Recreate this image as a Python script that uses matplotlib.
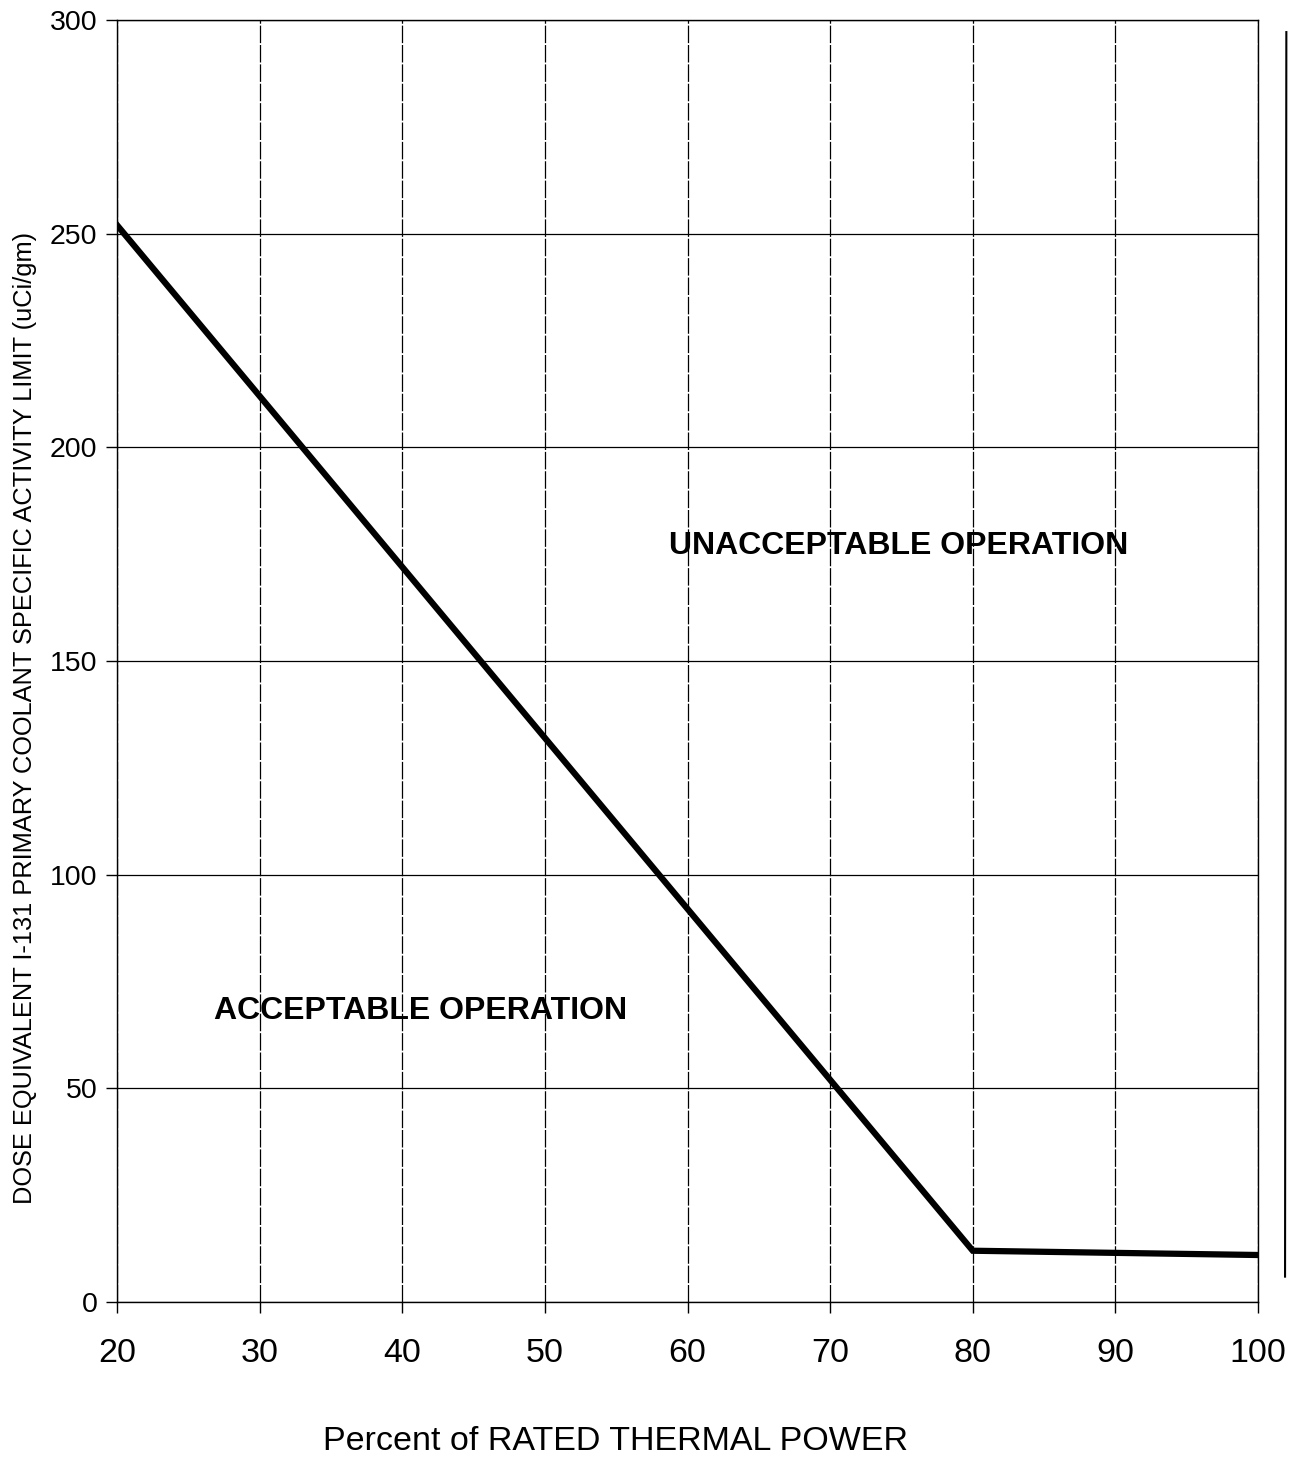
import matplotlib
matplotlib.use('Agg')
import matplotlib.pyplot as plt

plt.rcParams['font.family'] = ['Liberation Sans', 'DejaVu Sans']

# limit curve
power = [20, 80, 100]
limit = [252, 12, 11]

x_ticks = [20, 30, 40, 50, 60, 70, 80, 90, 100]
y_ticks = [0, 50, 100, 150, 200, 250, 300]

fig = plt.figure(figsize=(13, 14.59), dpi=100)
ax = fig.add_axes([0.09, 0.1076, 0.8777, 0.8787])

ax.plot(power, limit, color='black', lw=4.5, solid_joinstyle='miter')

ax.set_xlim(20, 100)
ax.set_ylim(0, 300)
ax.set_xticks(x_ticks)
ax.set_yticks(y_ticks)
ax.tick_params(axis='x', labelsize=24.5, length=8, width=1, pad=18)
ax.tick_params(axis='y', labelsize=20.5, length=8, width=1, pad=6)
ax.grid(True, color='black', lw=0.9)
ax.xaxis.grid(True, linestyle=(0, (14, 1.5)))
for s in ax.spines.values():
    s.set_linewidth(1)

ax.set_xlabel('Percent of RATED THERMAL POWER', fontsize=24.5)
ax.xaxis.set_label_coords(0.4365, -0.097)
ax.set_ylabel('DOSE EQUIVALENT I-131 PRIMARY COOLANT SPECIFIC ACTIVITY LIMIT (uCi/gm)',
              fontsize=18.3)
ax.yaxis.set_label_coords(-0.070, 0.4555)

ax.text(74.8, 177, 'UNACCEPTABLE OPERATION', fontsize=23, fontweight='bold',
        ha='center', va='center')
ax.text(41.3, 68, 'ACCEPTABLE OPERATION', fontsize=23, fontweight='bold',
        ha='center', va='center')

# change bar at right margin
fig.add_artist(plt.Line2D([0.9895, 0.9885], [0.978, 0.125], color='black', lw=1.5))

fig.savefig('out.png', dpi=100)
